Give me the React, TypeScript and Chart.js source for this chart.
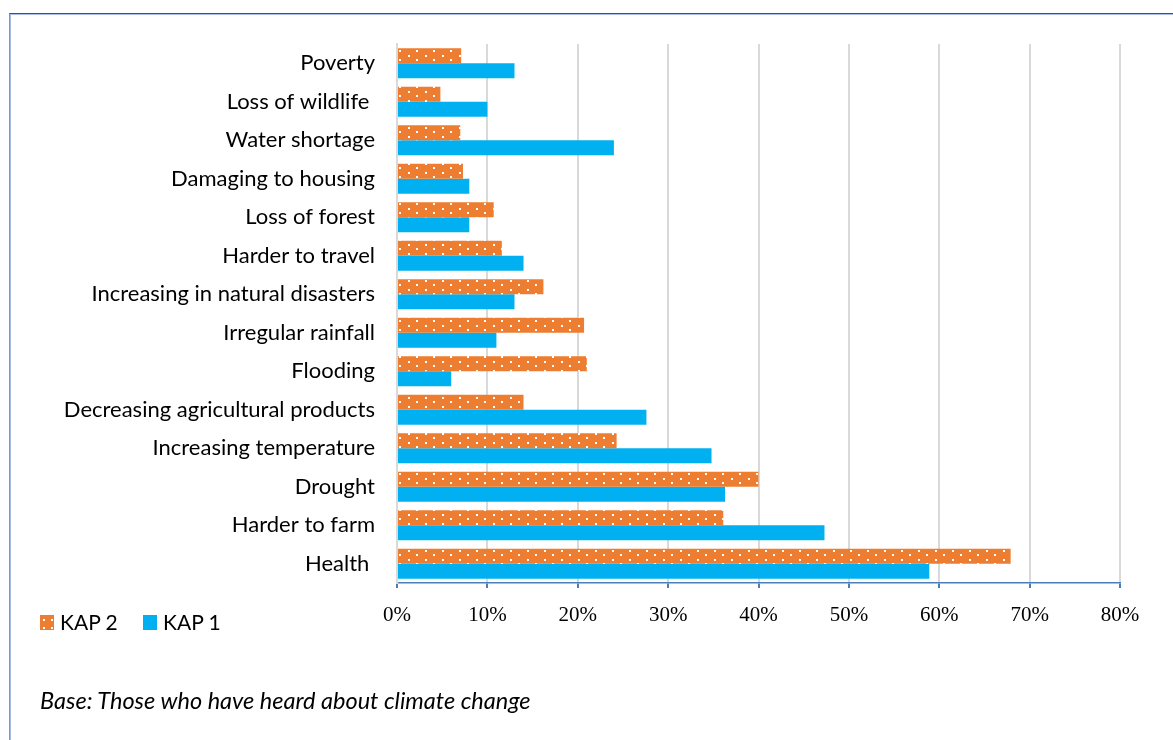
import React, { useEffect, useRef } from "react";
import { Chart, registerables } from "chart.js";

Chart.register(...registerables);

const categories = [
  "Poverty",
  "Loss of wildlife ",
  "Water shortage",
  "Damaging to housing",
  "Loss of forest",
  "Harder to travel",
  "Increasing in natural disasters",
  "Irregular rainfall",
  "Flooding",
  "Decreasing agricultural products",
  "Increasing temperature",
  "Drought",
  "Harder to farm",
  "Health ",
];
const kap2 = [7.1, 4.8, 7.0, 7.3, 10.7, 11.6, 16.2, 20.7, 21.0, 14.0, 24.3, 40.0, 36.1, 67.9];
const kap1 = [13.0, 10.0, 24.0, 8.0, 8.0, 14.0, 13.0, 11.0, 6.0, 27.6, 34.8, 36.3, 47.3, 58.9];
const seriesNames = ["KAP 2", "KAP 1"];
const xMin = 0;
const xMax = 80;
const xStep = 10;
const footnote = "Base: Those who have heard about climate change";

const ORANGE = "#ED7D31";
const BLUE = "#00B0F0";
const LABEL_FONT = "Lato";

function makePattern(): CanvasPattern | string {
  const c = document.createElement("canvas");
  c.width = 17;
  c.height = 9;
  const g = c.getContext("2d");
  if (!g) return ORANGE;
  g.fillStyle = ORANGE;
  g.fillRect(0, 0, 17, 9);
  g.fillStyle = "#ffffff";
  g.fillRect(0, 1, 2, 2);
  g.fillRect(8, 5, 2, 2);
  const p = g.createPattern(c, "repeat");
  return p || ORANGE;
}

export default function App() {
  const ref = useRef<HTMLCanvasElement | null>(null);

  useEffect(() => {
    if (!ref.current) return;
    const pattern = makePattern();
    const chart = new Chart(ref.current, {
      type: "bar",
      data: {
        labels: categories,
        datasets: [
          { label: seriesNames[0], data: kap2, backgroundColor: pattern as any, borderWidth: 0 },
          { label: seriesNames[1], data: kap1, backgroundColor: BLUE, borderWidth: 0 },
        ],
      },
      options: {
        indexAxis: "y",
        responsive: false,
        animation: false,
        datasets: { bar: { categoryPercentage: 0.78, barPercentage: 1 } },
        layout: { padding: { left: 0, top: 44, right: 53, bottom: 0 } },
        plugins: { legend: { display: false }, tooltip: { enabled: false } },
        scales: {
          x: {
            type: "linear",
            min: xMin,
            max: xMax,
            ticks: {
              stepSize: xStep,
              callback: (v: any) => `${v}%`,
              font: { family: "Liberation Serif", size: 21 },
              color: "#000",
              padding: 15,
              maxRotation: 0,
            },
            grid: { color: "#d9d9d9", lineWidth: 2, tickColor: "#4a7ebb", tickLength: 5 },
            border: { color: "#4a7ebb", width: 1.5 },
            afterFit: (s: any) => {
              s.height = 740 - 583;
            },
          },
          y: {
            type: "category",
            grid: { display: false, drawTicks: false },
            border: { color: "#d9d9d9", width: 2 },
            ticks: {
              font: { family: LABEL_FONT, size: 22 },
              color: "#000",
              padding: 22,
              autoSkip: false,
            },
            afterFit: (s: any) => {
              s.width = 397;
            },
          },
        },
      },
    });
    return () => chart.destroy();
  }, []);

  const swatchOrange: React.CSSProperties = {
    position: "absolute",
    width: 14,
    height: 15,
    background: ORANGE,
    backgroundImage: "radial-gradient(circle, #fff 1px, transparent 1.2px)",
    backgroundSize: "8px 8px",
    backgroundPosition: "0px 1px",
  };

  return (
    <div style={{ position: "fixed", left: 0, top: 0, width: 1173, height: 740, background: "#fff", overflow: "hidden" }}>
      <div
        style={{
          position: "absolute",
          left: 9,
          top: 13,
          width: 1300,
          height: 900,
          borderTop: "1px solid #44546A",
          borderLeft: "1px solid #8095b8",
        }}
      >
        <div style={{ width: "100%", height: "100%", borderTop: "1px solid #a6bee6", borderLeft: "1px solid #a6bee6" }} />
      </div>
      <canvas ref={ref} width={1173} height={740} style={{ position: "absolute", left: 0, top: 0 }} />
      <div style={{ ...swatchOrange, left: 40, top: 615 }} />
      <div style={{ position: "absolute", left: 60, top: 608, font: `21px ${LABEL_FONT}`, lineHeight: "28px", color: "#000" }}>
        {seriesNames[0]}
      </div>
      <div style={{ position: "absolute", left: 143, top: 615, width: 14, height: 15, background: BLUE }} />
      <div style={{ position: "absolute", left: 163, top: 608, font: `21px ${LABEL_FONT}`, lineHeight: "28px", color: "#000" }}>
        {seriesNames[1]}
      </div>
      <div
        style={{
          position: "absolute",
          left: 40,
          top: 684,
          font: `italic 23.5px ${LABEL_FONT}`,
          lineHeight: "32px",
          color: "#000",
        }}
      >
        {footnote}
      </div>
    </div>
  );
}
